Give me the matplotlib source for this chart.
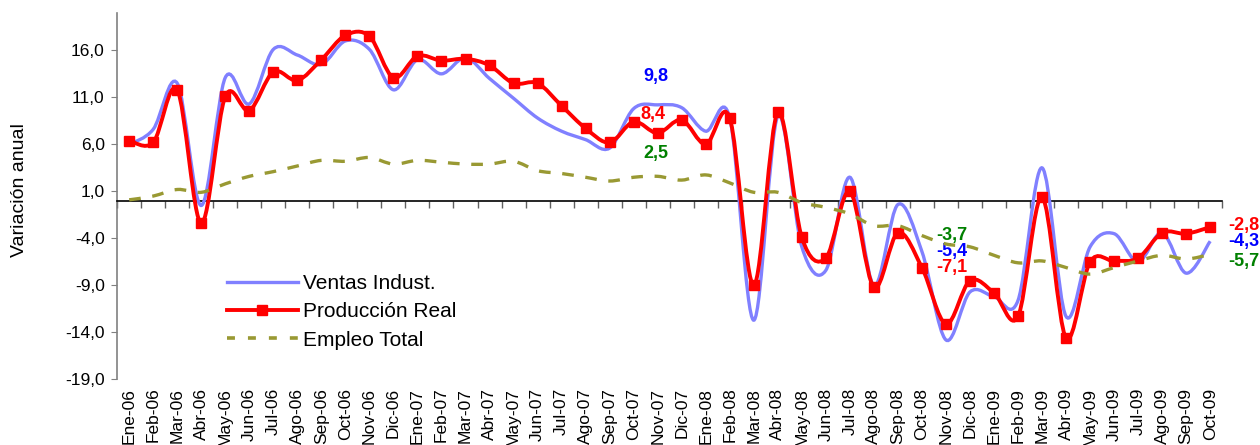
import numpy as np
import matplotlib
matplotlib.use('Agg')
import matplotlib.pyplot as plt
from matplotlib.path import Path
from matplotlib.patches import PathPatch
from matplotlib.ticker import FuncFormatter

plt.rcParams['font.family'] = ['Liberation Sans', 'DejaVu Sans']

meses = ['Ene', 'Feb', 'Mar', 'Abr', 'May', 'Jun', 'Jul', 'Ago', 'Sep', 'Oct', 'Nov', 'Dic']
labels = [m + '-0' + str(a) for a in (6, 7, 8) for m in meses] + [m + '-09' for m in meses[:10]]

# variacion anual (%)
ventas = [6.0, 7.6, 12.5, -0.5, 13.1, 10.3, 16.1, 15.5, 14.5, 17.0, 16.1, 11.8,
          15.0, 13.5, 15.2, 13.0, 10.9, 8.8, 7.4, 6.5, 5.6, 9.8, 10.2, 9.9,
          7.4, 8.8, -12.7, 9.0, -4.9, -7.4, 2.5, -9.0, -0.4, -5.4, -14.8, -9.7,
          -10.2, -10.6, 3.5, -12.3, -4.9, -3.5, -6.5, -3.4, -7.7, -4.3]
produccion = [6.4, 6.2, 11.8, -2.4, 11.1, 9.6, 13.7, 12.8, 15.0, 17.6, 17.5, 13.1,
              15.4, 14.9, 15.1, 14.4, 12.5, 12.5, 10.1, 7.7, 6.2, 8.4, 7.2, 8.6,
              6.0, 8.8, -9.0, 9.4, -3.9, -6.1, 1.0, -9.2, -3.4, -7.1, -13.1, -8.5,
              -9.8, -12.3, 0.4, -14.6, -6.5, -6.4, -6.1, -3.4, -3.5, -2.8]
empleo = [0.1, 0.5, 1.2, 0.9, 1.8, 2.6, 3.1, 3.7, 4.3, 4.2, 4.6, 3.9,
          4.3, 4.1, 3.9, 3.9, 4.2, 3.2, 2.9, 2.5, 2.1, 2.5, 2.6, 2.2,
          2.75, 1.9, 0.9, 0.9, -0.2, -0.7, -1.4, -2.65, -2.65, -3.7, -4.6, -4.9,
          -5.8, -6.6, -6.4, -7.1, -7.8, -7.1, -6.4, -5.8, -6.2, -5.7]

yticks = [-19, -14, -9, -4, 1, 6, 11, 16]

azul = '#8080FF'
rojo = '#FF0000'
verde = '#999933'


def coma(v):
    return ('%.1f' % v).replace('.', ',')


def suave(y):
    # smoothed line like excel (catmull-rom as bezier curves)
    pts = np.column_stack([np.arange(len(y)), y])
    ext = np.vstack([pts[0], pts, pts[-1]])
    verts = [pts[0]]
    codes = [Path.MOVETO]
    for i in range(len(pts) - 1):
        p0, p1, p2, p3 = ext[i], ext[i + 1], ext[i + 2], ext[i + 3]
        verts += [p1 + (p2 - p0) / 6, p2 - (p3 - p1) / 6, p2]
        codes += [Path.CURVE4] * 3
    return Path(verts, codes)


fig = plt.figure(figsize=(12.6, 4.45), dpi=100)
ax = fig.add_axes([0.093, 0.1474, 0.877, 0.824])
x = np.arange(len(labels))

ax.add_patch(PathPatch(suave(ventas), fill=False, edgecolor=azul, lw=2.4, zorder=3))
ax.add_patch(PathPatch(suave(produccion), fill=False, edgecolor=rojo, lw=2.8, zorder=4))
ax.plot(x, produccion, 's', color=rojo, markersize=7.5, zorder=5)
ax.add_patch(PathPatch(suave(empleo), fill=False, edgecolor=verde, lw=2.4,
                       linestyle=(0, (3.5, 3.5)), zorder=6))

# legend entries
h1, = ax.plot([], [], color=azul, lw=2.4)
h2, = ax.plot([], [], color=rojo, lw=2.8, marker='s', markersize=7.5)
h3, = ax.plot([], [], color=verde, lw=2.6, linestyle=(0, (2.2, 3.6)))
ax.legend([h1, h2, h3], ['Ventas Indust.', 'Producción Real', 'Empleo Total'],
          loc='upper left', bbox_to_anchor=(227 / 1260, 1 - 274 / 445),
          bbox_transform=fig.transFigure, frameon=False, fontsize=15,
          handlelength=3.4, handletextpad=0.25, labelspacing=0.45,
          borderpad=0, borderaxespad=0)

# data labels
i = labels.index('Oct-07')
ax.annotate(coma(ventas[i]), (i, ventas[i]), xytext=(16, 23), textcoords='offset points',
            ha='center', va='center', color='#0000FF', fontsize=13, fontweight='bold')
ax.annotate(coma(produccion[i]), (i, produccion[i]), xytext=(14, 5), textcoords='offset points',
            ha='center', va='center', color=rojo, fontsize=13, fontweight='bold')
ax.annotate(coma(empleo[i]), (i, empleo[i]), xytext=(16, 17), textcoords='offset points',
            ha='center', va='center', color='#008000', fontsize=13, fontweight='bold')
i = labels.index('Oct-08')
for serie, c in [(empleo, '#008000'), (ventas, '#0000FF'), (produccion, rojo)]:
    ax.annotate(coma(serie[i]), (i, serie[i]), xytext=(10, 0), textcoords='offset points',
                ha='left', va='center', color=c, fontsize=13, fontweight='bold')
i = labels.index('Oct-09')
for serie, c, dy in [(produccion, rojo, 1), (ventas, '#0000FF', 0), (empleo, '#008000', -5)]:
    ax.annotate(coma(serie[i]), (i, serie[i]), xytext=(13, dy), textcoords='offset points',
                ha='left', va='center', color=c, fontsize=13, fontweight='bold',
                annotation_clip=False)

ax.set_xlim(-0.5, len(labels) - 0.5)
ax.set_ylim(-19, 20)
ax.set_yticks(yticks)
ax.yaxis.set_major_formatter(FuncFormatter(lambda v, p: coma(v)))
ax.tick_params(axis='y', labelsize=12.5, length=4, pad=5, color='#808080')
ax.set_ylabel('Variación anual', fontsize=14)
ax.yaxis.set_label_coords(-0.081, 0.516)

# zero line with category ticks
ax.spines['top'].set_visible(False)
ax.spines['right'].set_visible(False)
ax.spines['left'].set_color('#808080')
ax.spines['left'].set_linewidth(1.2)
ax.spines['bottom'].set_position(('data', 0))
ax.spines['bottom'].set_linewidth(1.2)
ax.set_xticks(np.arange(len(labels) + 1) - 0.5)
ax.tick_params(axis='x', labelbottom=False, length=5, width=1, color='#606060')

sec = ax.secondary_xaxis('bottom')
sec.set_xticks(x, labels, rotation=90, fontsize=12.5)
sec.tick_params(length=0, pad=6)
sec.spines['bottom'].set_visible(False)

fig.savefig('out.png', dpi=100)
